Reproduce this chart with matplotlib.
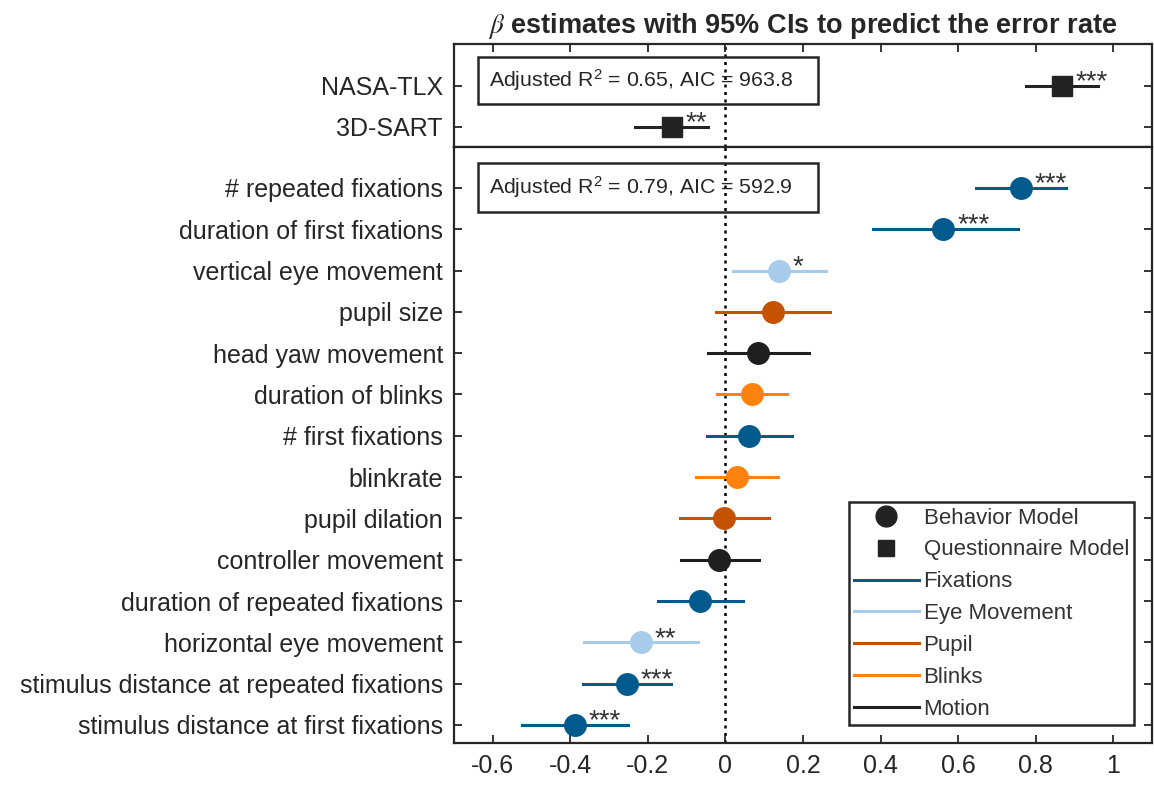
import matplotlib
matplotlib.use('Agg')
import matplotlib.pyplot as plt
from matplotlib.lines import Line2D
from matplotlib.patches import Rectangle

plt.rcParams['font.family'] = ['Liberation Sans', 'DejaVu Sans']
plt.rcParams['mathtext.fontset'] = 'custom'
plt.rcParams['mathtext.rm'] = 'Liberation Sans'

# questionnaire model (top panel), listed top to bottom
q_labels = ['NASA-TLX', '3D-SART']
q_est = [0.868, -0.138]
q_lo = [0.776, -0.233]
q_hi = [0.960, -0.045]
q_stars = ['***', '**']

# behavior model (bottom panel), listed top to bottom
b_labels = ['# repeated fixations', 'duration of first fixations', 'vertical eye movement',
            'pupil size', 'head yaw movement', 'duration of blinks', '# first fixations',
            'blinkrate', 'pupil dilation', 'controller movement',
            'duration of repeated fixations', 'horizontal eye movement',
            'stimulus distance at repeated fixations', 'stimulus distance at first fixations']
b_est = [0.762, 0.562, 0.138, 0.123, 0.084, 0.068, 0.061, 0.029, -0.004, -0.016,
         -0.065, -0.218, -0.254, -0.388]
b_lo = [0.647, 0.380, 0.020, -0.025, -0.045, -0.022, -0.048, -0.076, -0.117, -0.115,
        -0.174, -0.364, -0.367, -0.524]
b_hi = [0.879, 0.755, 0.259, 0.270, 0.215, 0.160, 0.172, 0.136, 0.112, 0.087,
        0.046, -0.072, -0.140, -0.251]
b_group = ['Fixations', 'Fixations', 'Eye Movement', 'Pupil', 'Motion', 'Blinks', 'Fixations',
           'Blinks', 'Pupil', 'Motion', 'Fixations', 'Eye Movement', 'Fixations', 'Fixations']
b_stars = ['***', '***', '*', '', '', '', '', '', '', '', '', '**', '***', '***']

groups = ['Fixations', 'Eye Movement', 'Pupil', 'Blinks', 'Motion']
colors = {'Fixations': '#005a8e', 'Eye Movement': '#a7cbea', 'Pupil': '#c55200',
          'Blinks': '#ff820f', 'Motion': '#1f1f1f'}
qcolor = '#232323'
frame = '#262626'

W, H = 1154, 787
fig = plt.figure(figsize=(W / 100, H / 100), dpi=100)
axq = fig.add_axes([454 / W, 1 - 147 / H, 698 / W, 103 / H])
axb = fig.add_axes([454 / W, 1 - 742.7 / H, 698 / W, 595.7 / H])

def style(ax, top):
    ax.set_xlim(-0.7, 1.1)
    ax.set_xticks([-0.6, -0.4, -0.2, 0, 0.2, 0.4, 0.6, 0.8, 1])
    for s in ax.spines.values():
        s.set_linewidth(1.6)
        s.set_color(frame)
    ax.tick_params(axis='both', direction='in', length=6, width=1.3, color=frame,
                   labelcolor=frame, labelsize=18, pad=8)
    ax.tick_params(axis='y', right=True)
    if top:
        ax.tick_params(axis='x', top=True, bottom=False, labelbottom=False)
    else:
        ax.set_xticklabels(['-0.6', '-0.4', '-0.2', '0', '0.2', '0.4', '0.6', '0.8', '1'])
    ax.axvline(0, color='black', linestyle=(0, (1.2, 1.8)), linewidth=1.8, zorder=1)

def stars(ax, x, y, s):
    if s:
        ax.annotate(s, (x, y), xytext=(10, -2.5), textcoords='offset points', ha='left',
                    va='baseline', fontsize=20, color='#333333')

# top panel
style(axq, True)
qy = list(range(len(q_labels), 0, -1))
for y, e, lo, hi, s in zip(qy, q_est, q_lo, q_hi, q_stars):
    axq.plot([lo, hi], [y, y], color=qcolor, linewidth=2.2, zorder=2)
    axq.plot(e, y, marker='s', color=qcolor, markersize=14.5, zorder=3)
    stars(axq, e, y, s)
axq.set_ylim(0.5, 3.02)
axq.set_yticks(qy)
axq.set_yticklabels(q_labels)

# bottom panel
style(axb, False)
by = list(range(len(b_labels), 0, -1))
for y, e, lo, hi, g, s in zip(by, b_est, b_lo, b_hi, b_group, b_stars):
    axb.plot([lo, hi], [y, y], color=colors[g], linewidth=2.2, zorder=2)
    axb.plot(e, y, marker='o', color=colors[g], markersize=15.5, zorder=3)
    stars(axb, e, y, s)
axb.set_ylim(0.57, 14.99)
axb.set_yticks(by)
axb.set_yticklabels(b_labels)

axq.set_title(r'$\beta$ estimates with 95% CIs to predict the error rate', fontsize=19.5,
              fontweight='bold', color='#262626', pad=8, math_fontfamily='stix')

# model fit boxes
for ytop, ybot, txt in [(57, 104, 'Adjusted $\\mathregular{R^2}$ = 0.65, AIC = 963.8'),
                        (163, 212, 'Adjusted $\\mathregular{R^2}$ = 0.79, AIC = 592.9')]:
    fig.add_artist(Rectangle((478 / W, 1 - ybot / H), 340 / W, (ybot - ytop) / H,
                             transform=fig.transFigure, fill=False, edgecolor=frame,
                             linewidth=1.8))
    fig.text(489 / W, 1 - (ytop + ybot) / 2 / H, txt, fontsize=15.3, color='#262626',
             ha='left', va='center')

handles = [Line2D([], [], marker='o', color=qcolor, linestyle='none', markersize=15),
           Line2D([], [], marker='s', color=qcolor, linestyle='none', markersize=12)]
handles += [Line2D([], [], color=colors[g], linewidth=2.2) for g in groups]
leg = axb.legend(handles, ['Behavior Model', 'Questionnaire Model'] + groups,
                 loc='lower right', bbox_to_anchor=(1134 / W, 1 - 725 / H),
                 bbox_transform=fig.transFigure, borderaxespad=0, fontsize=16,
                 handlelength=2.9, handletextpad=0.22, labelspacing=0.49,
                 borderpad=0.23, fancybox=False, framealpha=1, edgecolor=frame,
                 labelcolor='#333333')
leg.get_frame().set_linewidth(1.8)

fig.savefig('out.png', dpi=100)
